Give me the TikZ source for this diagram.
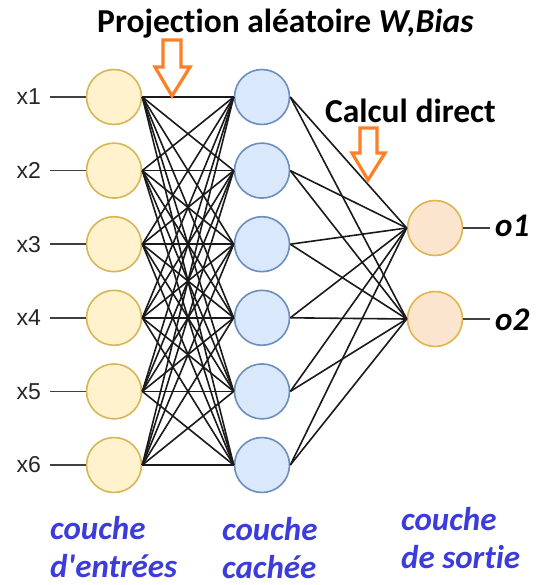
\documentclass[tikz,border=0pt]{standalone}
\usepackage{fontspec}
\setmainfont{Carlito}[Ligatures={NoCommon}]
\newfontfamily\labfont{Liberation Sans}
\definecolor{infill}{HTML}{FFF2CC}
\definecolor{indraw}{HTML}{D6B656}
\definecolor{hidfill}{HTML}{DAE8FC}
\definecolor{hiddraw}{HTML}{6C8EBF}
\definecolor{outfill}{HTML}{FBE5CE}
\definecolor{outdraw}{HTML}{E0B450}
\definecolor{arroworange}{HTML}{FF7F27}
\definecolor{layerblue}{HTML}{3C3CDC}
\definecolor{edgecol}{HTML}{1A1A1A}
\begin{document}
\begin{tikzpicture}[x=1pt,y=-1pt,
  neuron/.style={circle,minimum size=55pt,inner sep=0pt,line width=1.6pt},
  inneuron/.style={neuron,fill=infill,draw=indraw},
  hidneuron/.style={neuron,fill=hidfill,draw=hiddraw},
  outneuron/.style={neuron,fill=outfill,draw=outdraw},
  conn/.style={draw=edgecol,line width=1.6pt},
  inconn/.style={draw=black!75,line width=1.5pt},
  xlab/.style={anchor=east,inner sep=0pt,font=\labfont\fontsize{23}{26}\selectfont,text=black!85},
  olab/.style={anchor=west,inner sep=0pt,font=\fontsize{33}{36}\selectfont\bfseries\itshape},
  layerlab/.style={anchor=base west,inner sep=0pt,align=left,text=layerblue,font=\fontsize{33}{38}\selectfont\bfseries\itshape},
  titlelab/.style={anchor=base west,inner sep=0pt,font=\fontsize{33.5}{36}\selectfont\bfseries},
  blockarrow/.style={draw=arroworange,fill=white,line width=3.2pt,line join=miter}
]
\useasboundingbox (0,0) rectangle (535,585);

% neurons
\foreach \i/\y in {1/97,2/170.6,3/244.2,4/317.8,5/391.4,6/465}{
  \node[inneuron] (i\i) at (114,\y) {};
  \node[hidneuron] (h\i) at (262,\y) {};
  \coordinate (xs\i) at (50,\y);
  \node[xlab] (xl\i) at (41,\y) {x\i};
}
\node[outneuron] (o1) at (435,228) {};
\node[outneuron] (o2) at (435,319) {};
\coordinate (oe1) at (490,228);
\coordinate (oe2) at (490,319);

% input lines
\foreach \i in {1,...,6}{
  \draw[inconn] (xs\i) -- (i\i.west);
}
% input to hidden
\foreach \i in {1,...,6}{
  \foreach \j in {1,...,6}{
    \draw[conn] (i\i.east) -- (h\j.west);
  }
}
% hidden to output
\foreach \i in {1,...,6}{
  \foreach \j in {1,2}{
    \draw[conn] (h\i.east) -- (o\j.west);
  }
}
\draw[inconn] (o1.east) -- (oe1);
\draw[inconn] (o2.east) -- (oe2);
\node[olab] (ol1) at (495,226) {o1};
\node[olab] (ol2) at (495,320) {o2};

% titles
\node[titlelab] (t1) at (97,33) {Projection aléatoire \textit{W,Bias}};
\node[titlelab] (t2) at (325,123) {Calcul direct};

% block arrows
\draw[blockarrow] (163,40) -- (181,40) -- (181,67) -- (190,67) -- (172,96) -- (155,67) -- (163,67) -- cycle;
\draw[blockarrow] (360,128) -- (377,128) -- (377,153) -- (385,153) -- (368,180) -- (352,153) -- (360,153) -- cycle;

% layer labels (anchor = baseline of last line)
\node[layerlab] (l1) at (50,577) {couche\\d\textquotesingle entrées};
\node[layerlab] (l2) at (222,578) {couche\\cachée};
\node[layerlab] (l3) at (401,568) {couche\\de sortie};
\end{tikzpicture}
\end{document}
